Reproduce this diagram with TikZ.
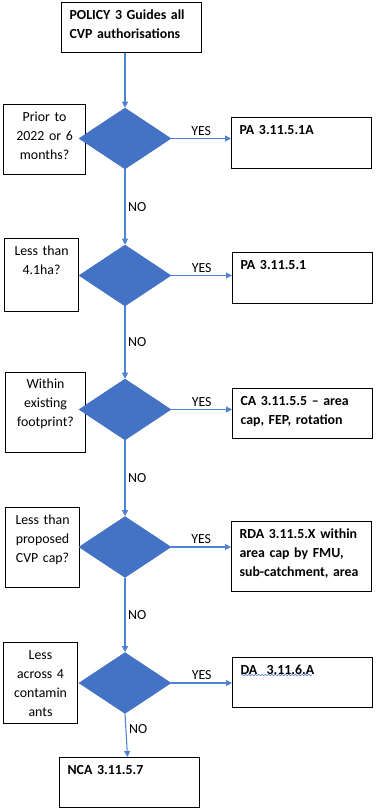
\documentclass[tikz,border=0pt]{standalone}
\usepackage{fontspec}
\setmainfont{Carlito}
\usepackage{xcolor}
\usetikzlibrary{shapes.geometric,arrows.meta,decorations.pathmorphing}
\definecolor{decblue}{HTML}{4472C4}
\definecolor{flowblue}{HTML}{5082D2}
\newcommand{\boxfont}{\fontsize{10.4}{14.25}\selectfont}

\begin{document}
\begin{tikzpicture}[x=0.75pt, y=-0.75pt,
	every node/.style={font=\boxfont},
	decision/.style={diamond, fill=decblue, draw=decblue, inner sep=0pt, minimum width=69pt, minimum height=45.75pt},
	askbox/.style={draw, line width=0.8pt, anchor=north west, align=center, inner xsep=1pt, inner ysep=0pt, text height=12.75pt},
	resbox/.style={draw, line width=0.8pt, anchor=north west, align=left, font=\boxfont\bfseries, inner xsep=6pt, inner ysep=0pt, text width=93pt, text height=12.4pt},
	flow/.style={draw=flowblue, line width=0.8pt, -{Triangle[length=4.5pt, width=4.5pt]}},
	ans/.style={font=\boxfont, inner sep=2pt}]
	\useasboundingbox (0,0) rectangle (379,809);

	\node[resbox, text depth=25.1pt] (policy) at (61,2) {POLICY 3 Guides all\\CVP authorisations};

	\node[askbox, text width=59.5pt, text depth=39.75pt] (q1) at (3,104) {Prior to\\2022 or 6\\months?};
	\node[askbox, text width=53.5pt, text depth=42pt] (q2) at (4,238) {Less than\\4.1ha?};
	\node[askbox, text width=58pt, text height=11.6pt, text depth=48.4pt] (q3) at (5,372) {Within\\existing\\footprint?};
	\node[askbox, text width=53.5pt, text height=12.4pt, text depth=47.6pt] (q4) at (5,507) {Less than\\proposed\\CVP cap?};
	\node[askbox, text width=53.5pt, text depth=48pt] (q5) at (3,642) {Less\\across 4\\contamin\\ants};

	\node[decision] (d1) at (125,138.5) {};
	\node[decision] (d2) at (125,275.5) {};
	\node[decision] (d3) at (125,409.5) {};
	\node[decision] (d4) at (125,547) {};
	\node[decision] (d5) at (125,683) {};

	\node[resbox, text depth=25.85pt] (r1) at (231,117) {PA 3.11.5.1A};
	\node[resbox, text depth=25.85pt] (r2) at (232,252) {PA 3.11.5.1};
	\node[resbox, text depth=25.1pt] (r3) at (232,388) {CA 3.11.5.5 -- area\\cap, FEP, rotation};
	\node[resbox, text depth=40.1pt] (r4) at (231,521) {RDA 3.11.5.X within\\area cap by FMU,\\sub-catchment, area};
	\node[resbox, text depth=25.1pt] (r5) at (232,657) {DA\ \ 3.11.6.A};
	\node[resbox, text depth=25.1pt] (nca) at (59,757) {NCA 3.11.5.7};
	\draw[flowblue, line width=0.5pt, decorate, decoration={snake, amplitude=0.5pt, segment length=2.5pt}]
		([shift={(9,18)}]r5.north west) -- ([shift={(80,18)}]r5.north west);

	\draw[flow] (policy.south -| d1.north) -- (d1.north);
	\draw[flow] (d1.south) -- (d2.north) node[ans, midway, right]{NO};
	\draw[flow] (d2.south) -- (d3.north) node[ans, midway, right]{NO};
	\draw[flow] (d3.south) -- (d4.north) node[ans, midway, right]{NO};
	\draw[flow] (d4.south) -- (d5.north) node[ans, midway, right]{NO};
	\draw[flow] (d5.south) -- ([xshift=-1.5pt]nca.north) node[ans, pos=0.35, right]{NO};

	\draw[flow] (d1.east) -- (d1.east -| r1.west) node[ans, midway, above]{YES};
	\draw[flow] (d2.east) -- (d2.east -| r2.west) node[ans, midway, above]{YES};
	\draw[flow] (d3.east) -- (d3.east -| r3.west) node[ans, midway, above]{YES};
	\draw[flow] (d4.east) -- (d4.east -| r4.west) node[ans, midway, above]{YES};
	\draw[flow] (d5.east) -- (d5.east -| r5.west) node[ans, midway, above]{YES};
\end{tikzpicture}
\end{document}
